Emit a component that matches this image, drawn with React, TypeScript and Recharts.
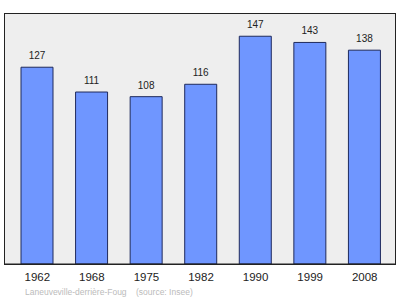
import React from "react";
import { BarChart, Bar, XAxis, YAxis, CartesianGrid, LabelList } from "recharts";

const years = ["1962", "1968", "1975", "1982", "1990", "1999", "2008"];
const population = [127, 111, 108, 116, 147, 143, 138];
const caption = "Laneuveville-derrière-Foug    (source: Insee)";

const data = years.map((y, i) => ({ year: y, value: population[i] }));
const FONT = "'Liberation Sans', Arial, sans-serif";

export default function App() {
  return (
    <div style={{ position: "absolute", left: 0, top: 0, width: 400, height: 299, background: "#fff", fontFamily: FONT }}>
      <BarChart width={400} height={299} data={data} margin={{ top: 13, right: 5, left: 4, bottom: 0 }} barCategoryGap={0}>
        <CartesianGrid fill="#eeeeee" horizontal={false} vertical={false} />
        <XAxis
          dataKey="year"
          axisLine={{ stroke: "#222", strokeWidth: 1 }}
          tickLine={false}
          tick={{ fontSize: 11.5, fill: "#222", fontFamily: FONT }}
          padding={{ left: 6, right: 3 }}
          dy={1}
          height={35}
        />
        <YAxis domain={[0, 162]} hide />
        <Bar dataKey="value" fill="#6f96ff" stroke="#1f2a5c" strokeWidth={1} barSize={32} isAnimationActive={false}>
          <LabelList dataKey="value" position="top" offset={8} style={{ fontSize: 10, fill: "#222", fontFamily: FONT }} />
        </Bar>
      </BarChart>
      <div style={{ position: "absolute", left: 4, top: 13, width: 390, height: 250, border: "1px solid #222", pointerEvents: "none" }} />
      <div style={{ position: "absolute", left: 25, top: 286, fontSize: 8.5, lineHeight: "12px", color: "#bbbbbb", whiteSpace: "pre", fontFamily: FONT }}>
        {caption}
      </div>
    </div>
  );
}
